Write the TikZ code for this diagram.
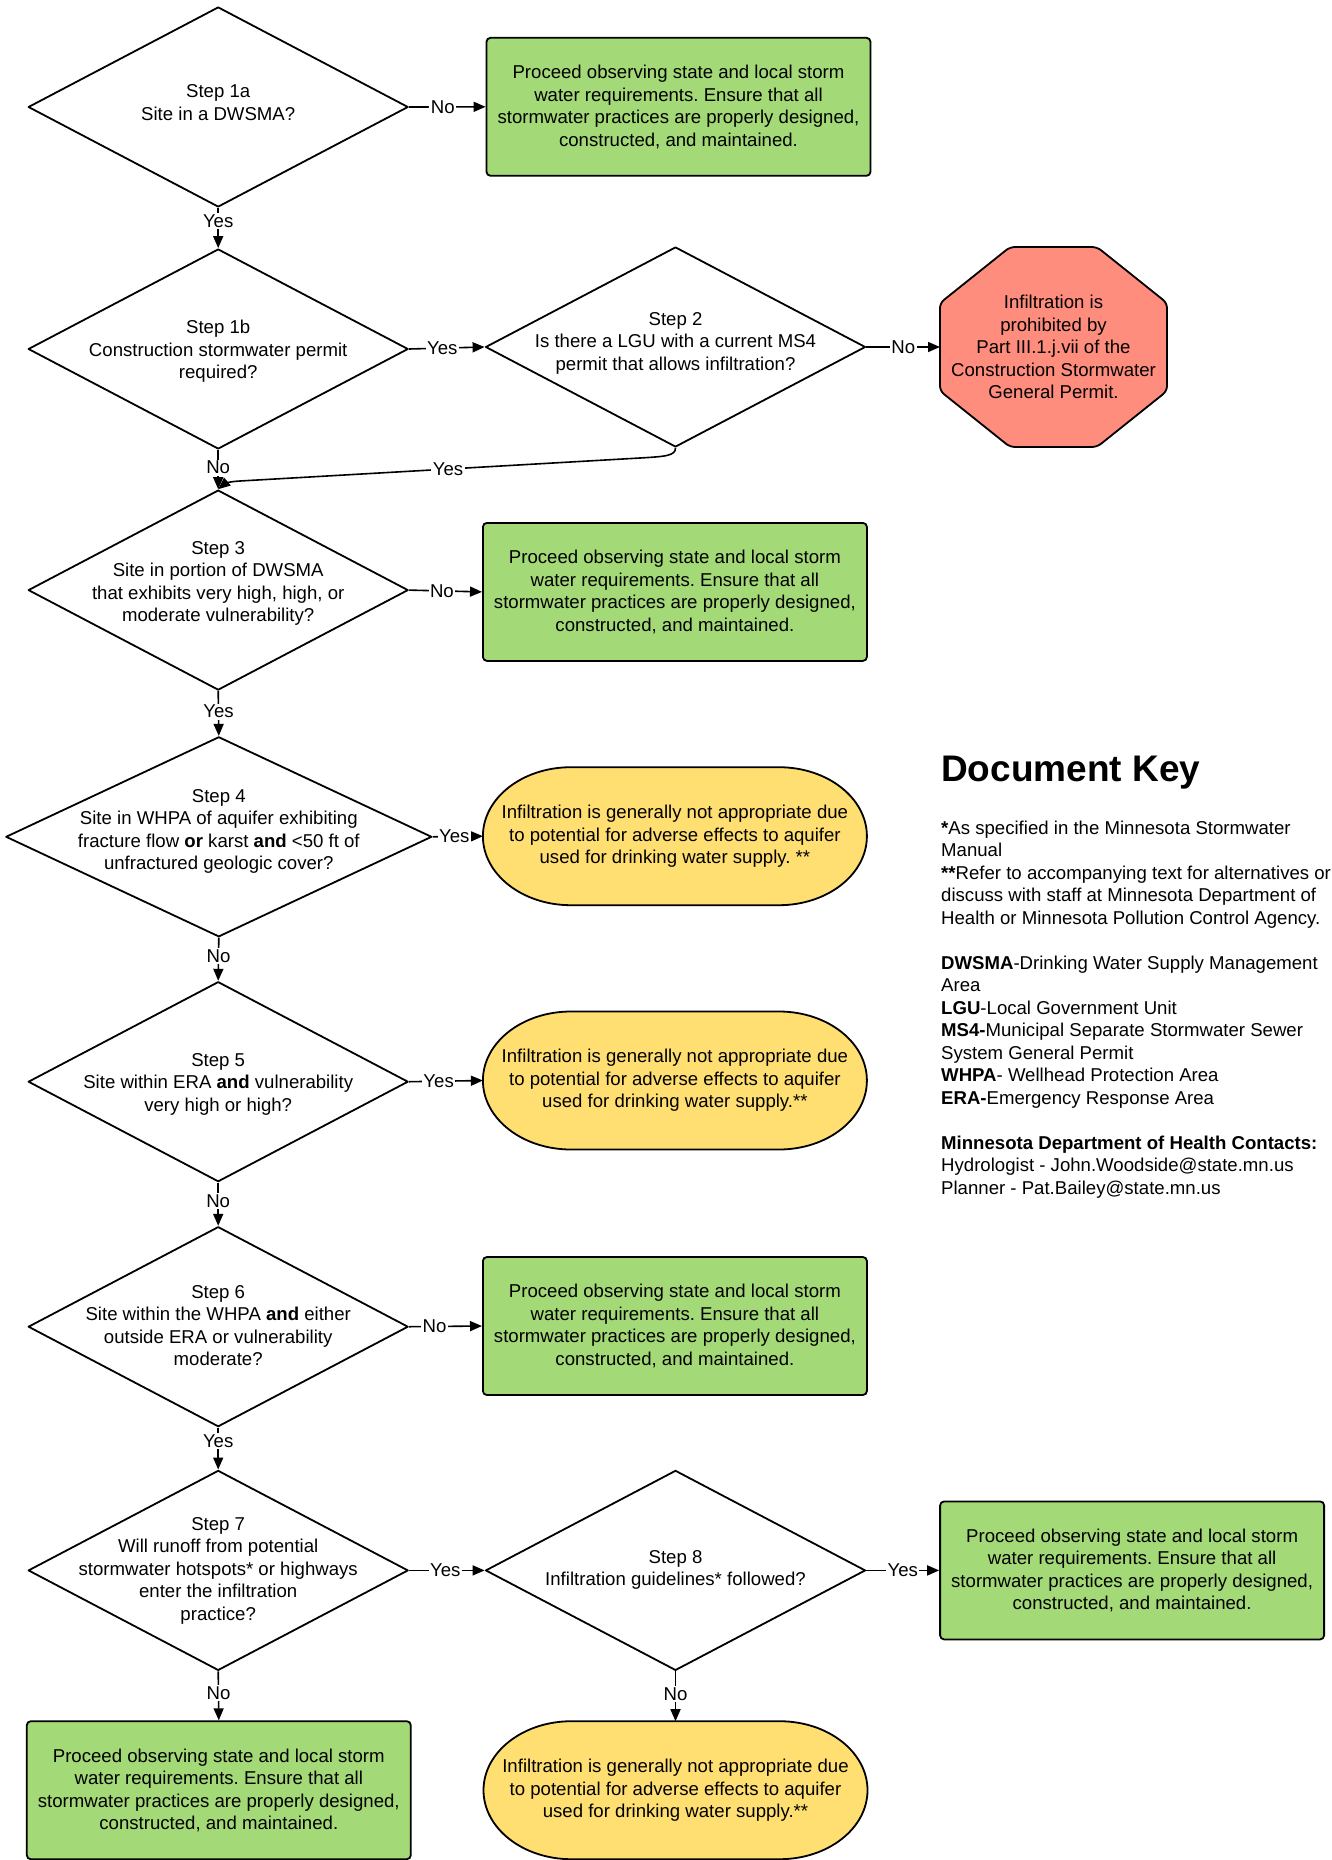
\documentclass[tikz,border=0pt]{standalone}
\usepackage{fontspec}
\setmainfont{Liberation Sans}
\usetikzlibrary{shapes.geometric,arrows.meta,calc,backgrounds}
\definecolor{gfill}{RGB}{163,217,119}
\definecolor{yfill}{RGB}{255,223,113}
\definecolor{rfill}{RGB}{255,141,126}
\frenchspacing
\newcommand\stadpath[1]{%
\filldraw[shapeline, fill=yfill] ($(#1.north west)+(88,0)$) -- ($(#1.north east)+(-88,0)$)
 .. controls ($(#1.north east)+(-39.4,0)$) and ($(#1.east)+(0,-38.1)$) .. (#1.east)
 .. controls ($(#1.east)+(0,38.1)$) and ($(#1.south east)+(-39.4,0)$) .. ($(#1.south east)+(-88,0)$)
 -- ($(#1.south west)+(88,0)$)
 .. controls ($(#1.south west)+(39.4,0)$) and ($(#1.west)+(0,38.1)$) .. (#1.west)
 .. controls ($(#1.west)+(0,-38.1)$) and ($(#1.north west)+(39.4,0)$) .. cycle;}
\newcommand\octpath[1]{%
\filldraw[shapeline, fill=rfill, rounded corners=5pt] ($(#1.north west)+(70,0)$) -- ($(#1.north east)+(-70,0)$) -- ($(#1.north east)+(0,56)$) -- ($(#1.south east)+(0,-56)$) -- ($(#1.south east)+(-70,0)$) -- ($(#1.south west)+(70,0)$) -- ($(#1.south west)+(0,-56)$) -- ($(#1.north west)+(0,56)$) -- cycle;}
\newcommand\greentext{Proceed observing state and local storm\\water requirements. Ensure that all\\stormwater practices are properly designed,\\constructed, and maintained.}
\begin{document}
\begin{tikzpicture}[x=1pt,y=-1pt,
  every node/.style={font=\fontsize{18.6}{22.5}\selectfont\frenchspacing},
  shapeline/.style={draw=black, line width=1.8pt, line join=round},
  dia/.style={shape=diamond, draw=black, line width=1.8pt, line join=round, fill=white, minimum width=380pt, minimum height=200pt, inner sep=0pt},
  gbox/.style={rectangle, draw=black, line width=1.8pt, fill=gfill, rounded corners=4pt, minimum width=384pt, minimum height=138pt, align=center, inner sep=0pt},
  ybox/.style={rectangle, minimum width=384pt, minimum height=138pt, align=center, inner sep=0pt, outer sep=0pt},
  obox/.style={rectangle, minimum width=227pt, minimum height=200pt, align=center, inner sep=0pt, outer sep=0pt},
  dtext/.style={align=center, inner sep=0pt},
  conn/.style={draw=black, line width=1.6pt, -{Triangle[length=12pt,width=10pt]}},
  lab/.style={fill=white, inner sep=1.5pt}]
\useasboundingbox (0,0) rectangle (1332,1860);
% diamonds
\node[dia] (d1a) at (218.2,107) {};
\node[dtext] (t1a) at (218.2,102.5) {Step 1a\\Site in a DWSMA?};
\node[dia] (d1b) at (218.2,349) {};
\node[dtext] (t1b) at (218.2,351.4) {Step 1b\\Construction stormwater permit\\required?};
\node[dia] (d2) at (675.5,347) {};
\node[dtext] (t2) at (675.5,343) {Step 2\\Is there a LGU with a current MS4\\permit that allows infiltration?};
\node[dia] (d3) at (218.2,590.1) {};
\node[dtext] (t3) at (218.2,583.4) {Step 3\\Site in portion of DWSMA\\that exhibits very high, high, or\\moderate vulnerability?};
\node[dia, minimum width=426pt] (d4) at (218.8,836.8) {};
\node[dtext] (t4) at (218.8,831.4) {Step 4\\Site in WHPA of aquifer exhibiting\\fracture flow \textbf{or} karst \textbf{and} <50 ft of\\unfractured geologic cover?};
\node[dia] (d5) at (218.2,1081.7) {};
\node[dtext] (t5) at (218.2,1084) {Step 5\\Site within ERA \textbf{and} vulnerability\\very high or high?};
\node[dia] (d6) at (218.2,1326.7) {};
\node[dtext] (t6) at (218.2,1325.7) {Step 6\\Site within the WHPA \textbf{and} either\\outside ERA or vulnerability\\moderate?};
\node[dia] (d7) at (218.2,1570.4) {};
\node[dtext] (t7) at (218.2,1570.9) {Step 7\\Will runoff from potential\\stormwater hotspots* or highways\\enter the infiltration\\practice?};
\node[dia] (d8) at (675.5,1570.4) {};
\node[dtext] (t8) at (675.5,1570) {Step 8\\Infiltration guidelines* followed?};
% outcome boxes
\node[gbox] (g1) at (678.5,106.8) {\greentext};
\node[obox] (oct) at (1053.5,347) {Infiltration is\\prohibited by\\Part III.1.j.vii of the\\Construction Stormwater\\General Permit.};
\node[gbox] (g3) at (674.9,591.9) {\greentext};
\node[ybox] (y4) at (674.9,836.2) {Infiltration is generally not appropriate due\\to potential for adverse effects to aquifer\\used for drinking water supply. **};
\node[ybox] (y5) at (674.9,1080.5) {Infiltration is generally not appropriate due\\to potential for adverse effects to aquifer\\used for drinking water supply.**};
\node[gbox] (g6) at (674.9,1326) {\greentext};
\node[gbox] (g8) at (1132.1,1570.4) {\greentext};
\node[gbox] (g7) at (218.8,1790.2) {\greentext};
\node[ybox] (y8) at (675.5,1790.2) {Infiltration is generally not appropriate due\\to potential for adverse effects to aquifer\\used for drinking water supply.**};
\begin{pgfonlayer}{background}
\octpath{oct}
\stadpath{y4}
\stadpath{y5}
\stadpath{y8}
\end{pgfonlayer}
% connectors
\draw[conn] (d1a.east) -- node[lab,pos=0.44]{No} (g1.west);
\draw[conn] (d1a.south) -- node[lab,pos=0.33]{Yes} (d1b.north);
\draw[conn] (d1b.east) -- node[lab,pos=0.44]{Yes} (d2.west);
\draw[conn] (d2.east) -- node[lab,pos=0.5]{No} (oct.west);
\draw[conn] (d1b.south) -- node[lab,pos=0.45]{No} (d3.north);
\coordinate (c1) at (640,458);
\coordinate (c2) at (240,481);
\draw[conn] (d2.south) .. controls +(0,8) and +(25,-1.5) .. (c1) -- node[lab,pos=0.48]{Yes} (c2) .. controls +(-14,0.8) and +(6,-5) .. (d3.north);
\draw[conn] (d3.east) -- node[lab,pos=0.45]{No} (g3.west);
\draw[conn] (d3.south) -- node[lab,pos=0.46]{Yes} (d4.north);
\draw[conn] (d4.east) -- node[lab,pos=0.43]{Yes} (y4.west);
\draw[conn] (d4.south) -- node[lab,pos=0.43]{No} (d5.north);
\draw[conn] (d5.east) -- node[lab,pos=0.4]{Yes} (y5.west);
\draw[conn] (d5.south) -- node[lab,pos=0.43]{No} (d6.north);
\draw[conn] (d6.east) -- node[lab,pos=0.35]{No} (g6.west);
\draw[conn] (d6.south) -- node[lab,pos=0.33]{Yes} (d7.north);
\draw[conn] (d7.east) -- node[lab,pos=0.48]{Yes} (d8.west);
\draw[conn] (d8.east) -- node[lab,pos=0.5]{Yes} (g8.west);
\draw[conn] (d7.south) -- node[lab,pos=0.45]{No} (g7.north);
\draw[conn] (d8.south) -- node[lab,pos=0.45]{No} (y8.north);
% document key
\node[anchor=base west, inner sep=0pt, font=\fontsize{37}{40}\selectfont\bfseries] (keytitle) at (941,781.4) {Document Key};
\node[anchor=north west, align=left, inner sep=0pt] (keytext) at (941,820.7) {\textbf{*}As specified in the Minnesota Stormwater\\Manual\\\textbf{**}Refer to accompanying text for alternatives or\\discuss with staff at Minnesota Department of\\Health or Minnesota Pollution Control Agency.\\[22.5pt]\textbf{DWSMA}-Drinking Water Supply Management\\Area\\\textbf{LGU}-Local Government Unit\\\textbf{MS4-}Municipal Separate Stormwater Sewer\\System General Permit\\\textbf{WHPA}- Wellhead Protection Area\\\textbf{ERA-}Emergency Response Area\\[22.5pt]\textbf{Minnesota Department of Health Contacts:}\\Hydrologist - John.Woodside@state.mn.us\\Planner - Pat.Bailey@state.mn.us};
\end{tikzpicture}
\end{document}
